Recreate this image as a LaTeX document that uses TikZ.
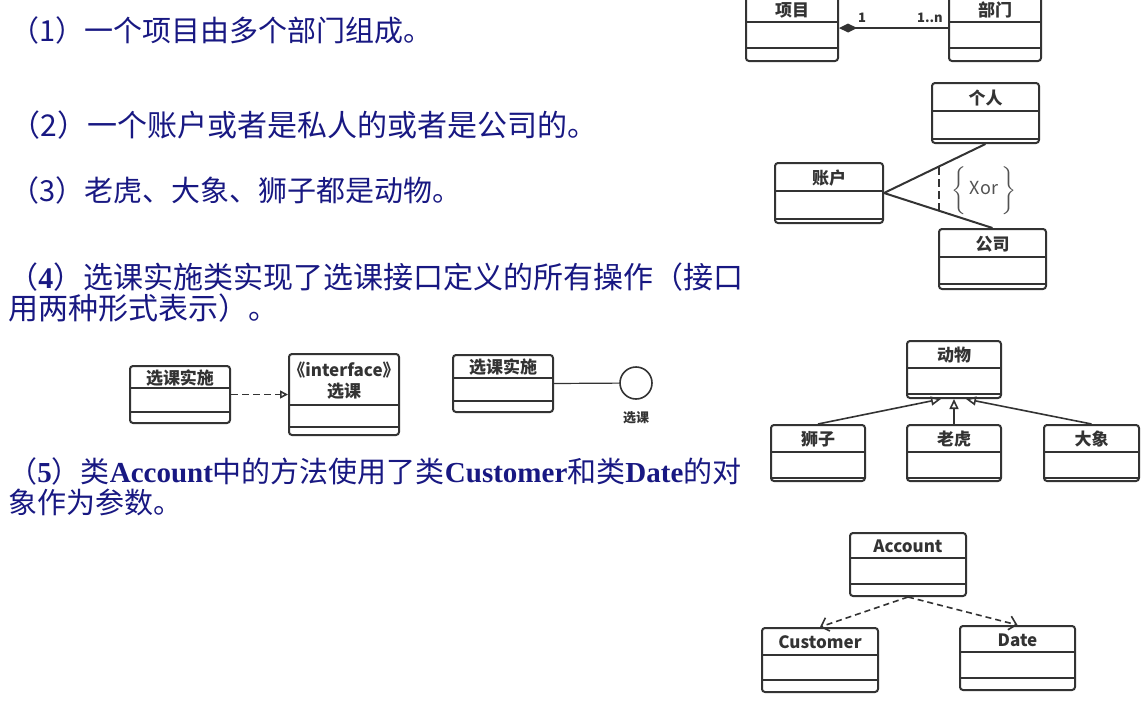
\documentclass[tikz,border=0pt]{standalone}
\usepackage{fontspec}
\setmainfont{Liberation Serif}
\newfontfamily\cjk{Noto Sans CJK SC}
\usetikzlibrary{arrows.meta, fit}
\definecolor{navy}{RGB}{24,24,130}
\definecolor{umlgray}{RGB}{51,51,51}

\newcommand\en[1]{{\rmfamily\bfseries #1}}
% class box: name, x1, y1, x2, y2, line 1, line 2, label
\newcommand\umlclass[8]{%
	\node [cls, fit={(#2,#3) (#4,#5)}] (#1) {};
	\draw [sep] (#2,#6) -- (#4,#6) (#2,#7) -- (#4,#7);
	\node [lbl] (#1-l) at ({(#2+#4)/2},{(#3+#6)/2+1}) {#8};
}

\tikzset{
	cls/.style = {draw=umlgray, line width=1pt, rounded corners=1.5pt, inner sep=0pt},
	sep/.style = {draw=umlgray, line width=0.8pt},
	lbl/.style = {font=\cjk\bfseries\fontsize{8.5}{10.5}\selectfont, text=umlgray, inner sep=0pt, align=center},
	txt/.style = {font=\cjk\fontsize{14.5}{15.5}\selectfont, text=navy, anchor=west, inner sep=0pt, align=left},
	mult/.style = {font=\cjk\bfseries\fontsize{6.5}{7}\selectfont, text=umlgray, inner sep=0pt},
	assoc/.style = {draw=umlgray, line width=1pt},
	comp/.style = {assoc, -{Diamond[length=9pt, width=4.5pt]}},
	real/.style = {draw=umlgray, line width=0.8pt, dash pattern=on 3.5pt off 2pt, -{Triangle[open, length=4pt, width=4pt]}},
	gen/.style = {draw=umlgray, line width=0.8pt, -{Triangle[open, length=5pt, width=4.5pt]}},
	dep/.style = {draw=umlgray, line width=0.8pt, dash pattern=on 3pt off 2pt, -{Straight Barb[length=3.5pt, width=7pt]}}
}

\begin{document}
\begin{tikzpicture}[x=0.5pt, y=-0.5pt]
	\useasboundingbox (0,0) rectangle (1148,702);
	\clip (0,0) rectangle (1148,702);

	\node [txt] (q1) at (10,30) {（1）一个项目由多个部门组成。};
	\node [txt, font=\cjk\fontsize{15}{15.5}\selectfont] (q2) at (10,125) {（2）一个账户或者是私人的或者是公司的。};
	\node [txt] (q3) at (10,190) {（3）老虎、大象、狮子都是动物。};
	\node [txt, font=\cjk\fontsize{15}{15.5}\selectfont] (q4) at (8,293) {（\en{4}）选课实施类实现了选课接口定义的所有操作（接口\\用两种形式表示）。};
	\node [txt] (q5) at (8,487) {（\en{5}）类\en{Account}中的方法使用了类\en{Customer}和类\en{Date}的对\\象作为参数。};

	% (1) composition
	\umlclass{xiangmu}{746}{-4}{838}{61}{22}{48}{项目}
	\umlclass{bumen}{949}{-4}{1041}{61}{22}{48}{部门}
	\draw [comp] (bumen.west |- 0,28) -- (xiangmu.east |- 0,28);
	\node [mult] (m1) at (862,18) {1};
	\node [mult] (mn) at (930,18) {1..n};

	% (2) xor
	\umlclass{geren}{932}{83}{1039}{143}{111}{139}{个人}
	\umlclass{zhanghu}{775}{163}{883}{223}{191}{219}{账户}
	\umlclass{gongsi}{939}{229}{1046}{289}{257}{284}{公司}
	\draw [assoc] (zhanghu.east) -- (geren.south);
	\draw [assoc] (zhanghu.east) -- (gongsi.north);
	\draw [sep, dash pattern=on 4pt off 2pt] (939,167) -- (939,211);
	\node [font=\cjk\fontsize{9}{10}\selectfont, text=umlgray!85] (xor) at (984,190) {$\bigg\{$\,Xor\,$\bigg\}$};

	% (4) interface
	\umlclass{impl}{130}{366}{230}{423}{388}{412}{选课实施}
	\umlclass{iface}{289}{354}{399}{435}{405}{427}{《interface》\\选课}
	\draw [real] (impl.east) -- (iface.west |- impl.east);
	\umlclass{impltwo}{453}{355}{553}{412}{378}{401}{选课实施}
	\node [circle, draw=umlgray, line width=0.8pt, minimum size=16pt, inner sep=0pt] (xk) at (636,383) {};
	\draw [sep, line width=0.6pt] (impltwo.east) -- (xk);
	\node [mult] (xkl) at (636,418) {选课};

	% (3) generalization
	\umlclass{dongwu}{907}{341}{1001}{398}{368}{394}{动物}
	\umlclass{shizi}{771}{425}{865}{481}{452}{478}{狮子}
	\umlclass{laohu}{907}{425}{1001}{481}{452}{478}{老虎}
	\umlclass{daxiang}{1044}{425}{1139}{481}{452}{478}{大象}
	\draw [gen] (shizi.north) -- ([xshift=-6.5pt]dongwu.south);
	\draw [gen] (laohu.north) -- (dongwu.south);
	\draw [gen] (daxiang.north) -- ([xshift=6pt]dongwu.south);

	% (5) dependency
	\umlclass{account}{850}{533}{966}{596}{558}{584}{Account}
	\umlclass{customer}{762}{628}{878}{692}{655}{680}{Customer}
	\umlclass{date}{960}{626}{1075}{690}{652}{678}{Date}
	\draw [dep] (account.south) -- (customer.north);
	\draw [dep] (account.south) -- (date.north);
\end{tikzpicture}
\end{document}
